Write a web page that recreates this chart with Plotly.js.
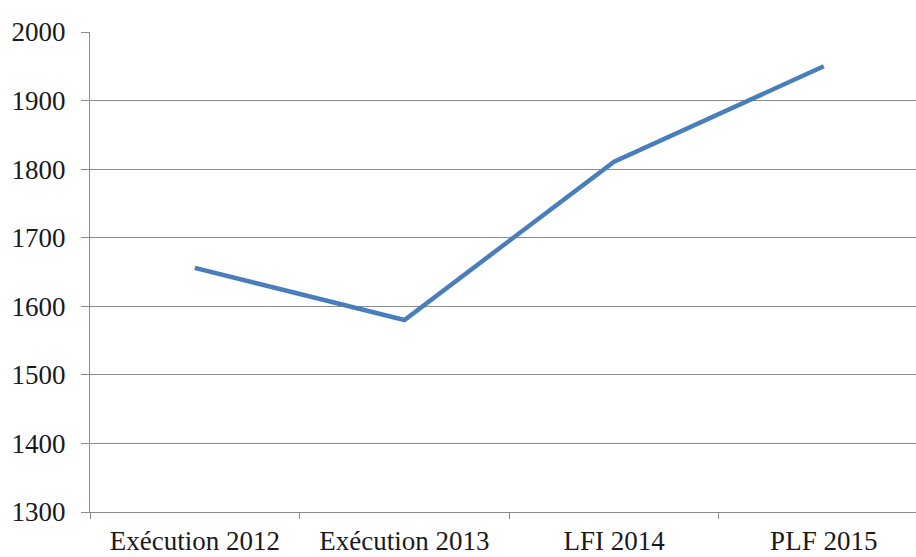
<!DOCTYPE html>
<html>
<head>
<meta charset="utf-8">
<script src="https://cdn.plot.ly/plotly-3.0.1.min.js"></script>
<style>
  html, body { margin: 0; padding: 0; background: #fff; }
  #chart { width: 916px; height: 557px; }
</style>
</head>
<body>
<div id="chart"></div>
<script>
const categories = ['Exécution 2012', 'Exécution 2013', 'LFI 2014', 'PLF 2015'];
const values = [1656, 1580, 1811, 1950];
const yTicks = [1300, 1400, 1500, 1600, 1700, 1800, 1900, 2000];

const gray = '#8c8c8c';
const font = { family: '"Liberation Serif", "DejaVu Serif", serif', size: 27, color: '#1a1a1a' };

Plotly.newPlot('chart', [{
  type: 'scatter',
  mode: 'lines',
  x: categories,
  y: values,
  line: { color: '#4a7ebb', width: 4.5 },
  hoverinfo: 'skip'
}], {
  width: 916,
  height: 557,
  margin: { l: 90, r: 0, t: 32, b: 45 },
  paper_bgcolor: '#fff',
  plot_bgcolor: '#fff',
  showlegend: false,
  font: font,
  xaxis: {
    type: 'category',
    range: [-0.5, 3.44],
    showgrid: false,
    zeroline: false,
    showline: true,
    linecolor: gray,
    linewidth: 1.2,
    ticks: 'outside',
    tickson: 'boundaries',
    ticklen: 6,
    tickcolor: gray,
    tickfont: font,
    ticklabelstandoff: 4
  },
  yaxis: {
    range: [1300, 2000],
    tickvals: yTicks,
    ticktext: yTicks.map(String),
    showgrid: true,
    gridcolor: gray,
    gridwidth: 1.2,
    zeroline: false,
    showline: true,
    linecolor: gray,
    linewidth: 1.2,
    ticks: 'outside',
    ticklen: 8,
    tickcolor: gray,
    tickfont: font,
    ticklabelstandoff: 10
  }
}, { staticPlot: true, displayModeBar: false });
</script>
</body>
</html>
